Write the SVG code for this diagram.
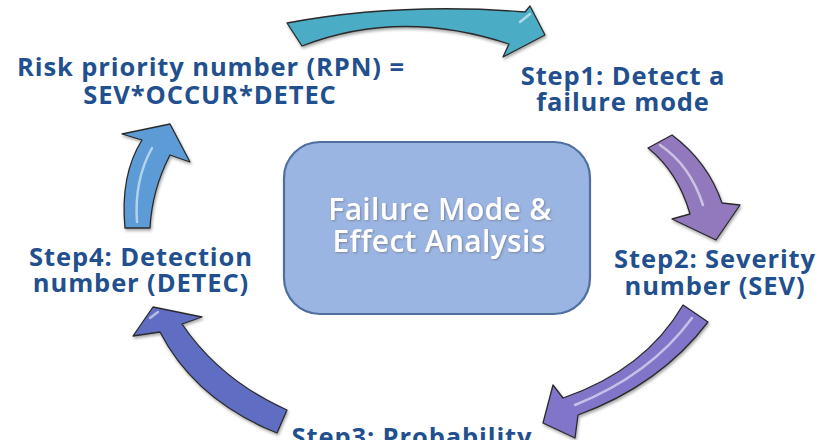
<svg xmlns="http://www.w3.org/2000/svg" width="827" height="440" viewBox="0 0 827 440">
<style>
.lbl{font-family:"Open Sans","Liberation Sans",sans-serif;font-weight:bold;font-size:25.5px;letter-spacing:0.9px;fill:#22508E;text-anchor:middle}
.ctr{font-family:"Open Sans","Liberation Sans",sans-serif;font-weight:600;font-size:30px;letter-spacing:0.3px;fill:#ffffff;text-anchor:middle}
.arr{stroke:#2b2b2b;stroke-width:1.3;stroke-linejoin:round}
.hl{fill:none;stroke:#ffffff;stroke-opacity:0.55;stroke-width:2.5;stroke-linecap:round}
</style>
<defs>
<filter id="sh" x="-10%" y="-10%" width="120%" height="130%">
<feDropShadow dx="1" dy="2" stdDeviation="1.5" flood-color="#000" flood-opacity="0.35"/>
</filter>
<filter id="tsh" x="-5%" y="-20%" width="110%" height="150%">
<feDropShadow dx="1" dy="1" stdDeviation="1" flood-color="#555" flood-opacity="0.5"/>
</filter>
</defs>
<rect width="827" height="440" fill="#ffffff"/>
<g id="connectors">
<g id="arrow-top" filter="url(#sh)">
<path class="arr" fill="#4BACC6" d="M 287,23 Q 400,2 525,12 L 530,6 L 545,35 L 503,57 L 509,44 Q 400,8 302,46 Z"/>
<path class="hl" d="M 520,22 L 530,14"/>
</g>
<g id="arrow-right" filter="url(#sh)">
<path class="arr" fill="#9279BD" d="M 648,148 L 672,135 Q 708,162 722,203 L 740,205 L 716,240 L 672,219 L 690,214 Q 678,172 648,148 Z"/>
<path class="hl" d="M 660,145 Q 690,165 703,205"/>
</g>
<g id="arrow-bottom-right" filter="url(#sh)">
<path class="arr" fill="#8074C9" d="M 683,305 L 708,322 Q 660,385 578,415 L 575,438 L 543,423 L 553,385 L 563,398 Q 645,370 683,305 Z"/>
<path class="hl" d="M 692,318 Q 650,375 575,405"/>
</g>
<g id="arrow-bottom-left" filter="url(#sh)">
<path class="arr" fill="#5F6EC2" d="M 153,307 L 202,317 L 182,324 Q 220,380 287,410 L 277,433 Q 195,400 160,332 L 133,336 Z"/>
<path class="hl" d="M 150,318 L 158,312"/>
</g>
<g id="arrow-left" filter="url(#sh)">
<path class="arr" fill="#5B9BD5" d="M 125,228 Q 120,175 142,140 L 122,134 L 170,124 L 190,162 L 170,155 Q 152,190 150,228 Z"/>
<path class="hl" d="M 137,222 Q 134,180 152,148"/>
</g>
</g>
<g id="center">
<rect x="284" y="142" width="306" height="172" rx="36" ry="36" fill="#9BB5E3" stroke="#4E6F9F" stroke-width="2.2"/>
<g filter="url(#tsh)">
<text class="ctr" x="440" y="220">Failure Mode &amp;</text>
<text class="ctr" x="439" y="252">Effect Analysis</text>
</g>
</g>
<g id="rpn">
<text class="lbl" x="211" y="76">Risk priority number (RPN) =</text>
<text class="lbl" x="210" y="104">SEV*OCCUR*DETEC</text>
</g>
<g id="step1">
<text class="lbl" x="623" y="85">Step1: Detect a</text>
<text class="lbl" x="623" y="111">failure mode</text>
</g>
<g id="step2">
<text class="lbl" x="715" y="268">Step2: Severity</text>
<text class="lbl" x="715" y="295">number (SEV)</text>
</g>
<g id="step3">
<text class="lbl" x="412" y="446">Step3: Probability</text>
</g>
<g id="step4">
<text class="lbl" x="141" y="266">Step4: Detection</text>
<text class="lbl" x="141" y="292">number (DETEC)</text>
</g>
</svg>
